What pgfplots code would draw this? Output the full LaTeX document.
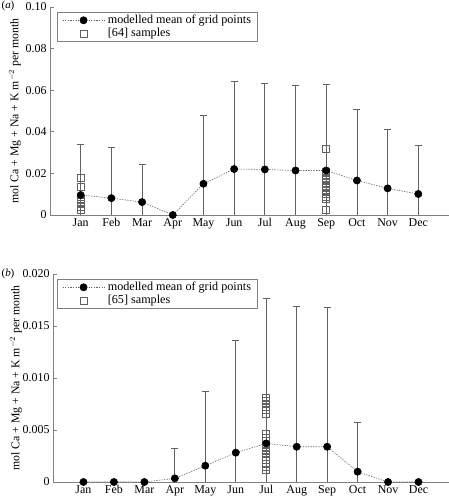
\documentclass[border=0pt]{standalone}
\usepackage{fontspec}
\setmainfont{Liberation Serif}
\usepackage{pgfplots}
\pgfplotsset{compat=1.18}
\usepackage{pgfplotstable}

\definecolor{axgray}{gray}{0.5}
\definecolor{bargray}{gray}{0.38}
\definecolor{sqgray}{gray}{0.38}

% panel (a)
\pgfplotstableread{
x m
1 0.0096
2 0.0081
3 0.0062
4 0.0
5 0.0150
6 0.0221
7 0.0219
8 0.0214
9 0.0214
10 0.0166
11 0.0128
12 0.0101
}\meanA
\pgfplotstableread{
x z t
1 0 0.0339
2 0 0.0323
3 0 0.0243
5 0 0.0477
6 0 0.0643
7 0 0.0635
8 0 0.0622
9 0 0.0627
10 0 0.0506
11 0 0.0411
12 0 0.0334
}\barA
\pgfplotstableread{
x s
1 0.0178
1 0.0135
1 0.0080
1 0.0066
1 0.0052
1 0.0038
1 0.0024
9 0.0317
9 0.0207
9 0.0194
9 0.0181
9 0.0168
9 0.0155
9 0.0142
9 0.0129
9 0.0116
9 0.0103
9 0.0090
9 0.0077
9 0.0026
}\sampA

% panel (b)
\pgfplotstableread{
x m
1 0.0
2 0.0
3 0.0
4 0.00035
5 0.00157
6 0.00282
7 0.00371
8 0.00339
9 0.00339
10 0.00099
11 0.0
12 0.0
}\meanB
\pgfplotstableread{
x z t
4 0 0.00326
5 0 0.00874
6 0 0.01363
7 0 0.01763
8 0 0.01693
9 0 0.01680
10 0 0.00570
}\barB
\pgfplotstableread{
x s
7 0.0081
7 0.0078
7 0.0075
7 0.0072
7 0.0069
7 0.0066
7 0.0046
7 0.0043
7 0.0040
7 0.0036
7 0.0033
7 0.0030
7 0.0027
7 0.0024
7 0.0021
7 0.0018
7 0.0015
7 0.0012
}\sampB

\pgfplotsset{
  panel/.style={
    scale only axis,
    height=208bp,
    xmin=0, xmax=13, ymin=0,
    scaled y ticks=false,
    axis x line*=bottom, axis y line*=left,
    axis line style={axgray, line width=0.8bp, -},
    xtick={1,...,12},
    xticklabels={Jan,Feb,Mar,Apr,May,Jun,Jul,Aug,Sep,Oct,Nov,Dec},
    x tick style={draw=none},
    y tick style={axgray, line width=0.8bp},
    tick align=inside, major tick length=4bp,
    tick label style={font=\fontsize{12}{14}\selectfont},
    label style={font=\fontsize{11.8}{14}\selectfont},
    ylabel={mol Ca + Mg + Na + K m$^{-2}$ per month},
    legend cell align=left,
    legend style={draw=axgray, line width=0.6bp, anchor=north west,
      font=\fontsize{12.2}{14}\selectfont, inner xsep=5bp, inner ysep=2bp,
      row sep=1bp, nodes={inner xsep=3bp, inner ysep=1bp}},
    legend image code/.code={%
      \draw[mark repeat=2, mark phase=2, #1]
        plot coordinates {(0bp,0bp) (21bp,0bp) (42bp,0bp)};},
  },
  meanstyle/.style={color=bargray, line width=0.6bp,
      dash pattern=on 1.3bp off 1.3bp,
      mark=*, mark size=3.6bp,
      mark options={solid, fill=black, draw=black}},
  sampstyle/.style={only marks, mark=square, mark size=3.5bp,
      mark options={solid, draw=sqgray, line width=0.5bp, fill=none}},
  barstyle/.style={draw=none, mark=none, forget plot,
      error bars/.cd, y dir=plus, y explicit,
      error bar style={bargray, line width=0.7bp},
      error mark options={rotate=90, bargray, mark size=3.5bp, line width=0.7bp}},
}

\begin{document}
\begin{tikzpicture}
\useasboundingbox (0bp,0bp) rectangle (449bp,503bp);

\node[font=\fontsize{11}{12}\selectfont] at (8bp,497bp) {(\textit{a})};
\node[font=\fontsize{11}{12}\selectfont] at (8bp,229bp) {(\textit{b})};

\begin{axis}[panel, at={(50bp,288bp)}, anchor=south west, width=399bp,
  ymax=0.10, ytick={0,0.02,0.04,0.06,0.08,0.10},
  yticklabels={0,0.02,0.04,0.06,0.08,0.10},
  ylabel style={at={(axis description cs:-0.0877,0.5)}, anchor=center},
  legend style={at={(0.0175,0.976)}}]
\addplot[barstyle] table[x=x, y=z, y error=t] {\barA};
\addplot[sampstyle, forget plot] table[x=x, y=s] {\sampA};
\addplot[meanstyle] table[x=x, y=m] {\meanA};
\addlegendentry{\makebox[141bp][l]{modelled mean of grid points}}
\addlegendimage{sampstyle}
\addlegendentry{[64] samples}
\end{axis}

\begin{axis}[panel, at={(53bp,21bp)}, anchor=south west, width=396bp,
  ymax=0.020, ytick={0,0.005,0.010,0.015,0.020},
  yticklabels={0,0.005,0.010,0.015,0.020},
  ylabel style={at={(axis description cs:-0.0934,0.5)}, anchor=center},
  legend style={at={(0.010,0.976)}}]
\addplot[barstyle] table[x=x, y=z, y error=t] {\barB};
\addplot[sampstyle, forget plot] table[x=x, y=s] {\sampB};
\addplot[meanstyle] table[x=x, y=m] {\meanB};
\addlegendentry{\makebox[141bp][l]{modelled mean of grid points}}
\addlegendimage{sampstyle}
\addlegendentry{[65] samples}
\end{axis}
\end{tikzpicture}
\end{document}
